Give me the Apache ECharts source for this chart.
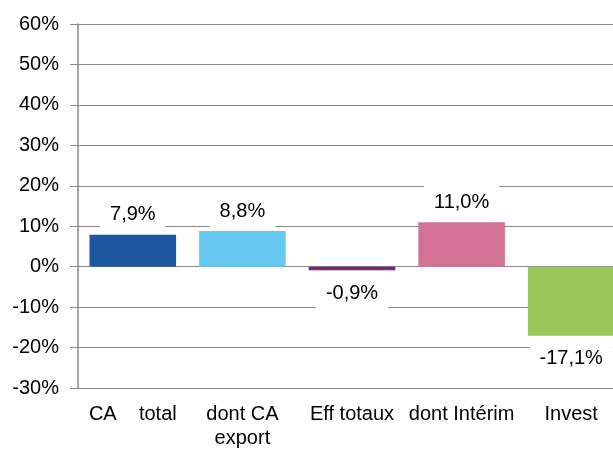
<!DOCTYPE html>
<html>
<head>
<meta charset="utf-8">
<script src="https://cdn.jsdelivr.net/npm/echarts@6/dist/echarts.min.js"></script>
<style>
  html, body { margin: 0; padding: 0; background: #fff; overflow: hidden; }
  #chart { width: 626px; height: 450px; }
</style>
</head>
<body>
<div id="chart"></div>
<script>
// catégories et valeurs (%)
var categories = ['CA    total', 'dont CA\nexport', 'Eff totaux', 'dont Intérim', 'Invest']
var values = [7.9, 8.8, -0.9, 11.0, -17.1]
var barColors = ['#1F56A0', '#66C8F0', '#7B2580', '#D27396', '#9BC65A']

var chart = echarts.init(document.getElementById('chart'))

chart.setOption({
  animation: false,
  grid: {
    left: 78,
    right: 0,
    top: 24,
    bottom: 58
  },
  xAxis: {
    type: 'category',
    data: categories,
    axisLine: { show: false },
    axisTick: { show: false },
    axisLabel: {
      interval: 0,
      color: '#000',
      fontFamily: 'Liberation Sans',
      fontSize: 20,
      margin: 14,
      lineHeight: 24
    }
  },
  yAxis: {
    type: 'value',
    min: -30,
    max: 60,
    interval: 10,
    axisLine: { show: true, lineStyle: { color: '#888', width: 1.5 } },
    axisTick: { show: true, length: 8, lineStyle: { color: '#888' } },
    splitLine: { show: true, lineStyle: { color: '#888', width: 1 } },
    axisLabel: {
      color: '#000',
      fontFamily: 'Liberation Sans',
      fontSize: 20,
      margin: 19,
      formatter: '{value}%'
    }
  },
  series: [
    {
      type: 'bar',
      barWidth: '79%',
      data: values.map(function (v, i) {
        return {
          value: v,
          itemStyle: { color: barColors[i] },
          label: {
            position: v < 0 ? 'bottom' : 'top',
            distance: v < 0 ? 4 : 1
          }
        }
      }),
      label: {
        show: true,
        color: '#000',
        fontFamily: 'Liberation Sans',
        fontSize: 20,
        backgroundColor: '#fff',
        padding: [9, 10],
        formatter: function (p) {
          return p.value.toFixed(1).replace('.', ',') + '%'
        }
      }
    }
  ]
})
</script>
</body>
</html>
